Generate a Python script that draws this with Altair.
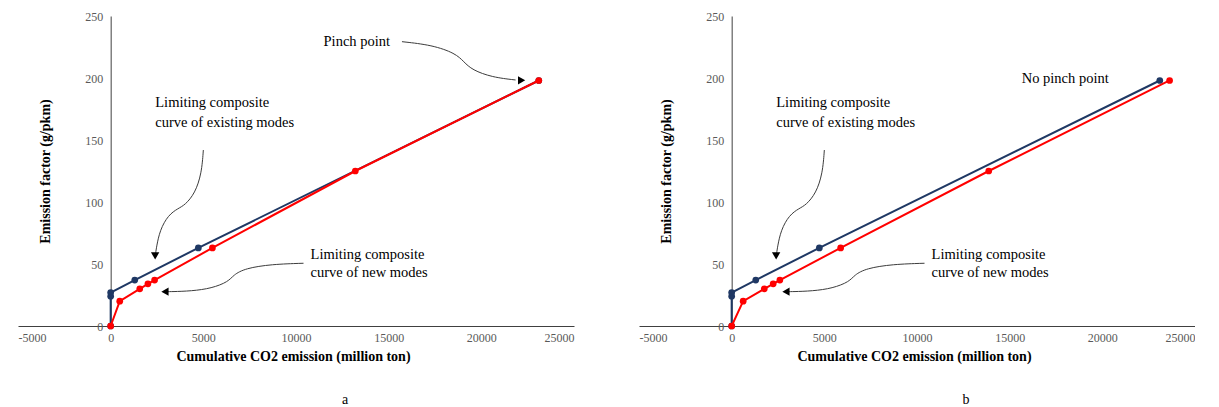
import altair as alt
import pandas as pd

FONT = "Times New Roman, Liberation Serif, serif"
W, H = 556, 310

# Limiting composite curve of existing modes (same in both panels)
exist_x = [0, 0, 0, 1300, 4730, 23100]
exist_y = [0, 24, 27, 37, 63, 198]

# Limiting composite curve of new modes, panel a
new_a_x = [0, 490, 1570, 2010, 2370, 5490, 13200, 23100]
new_a_y = [0, 20, 30, 34, 37, 63, 125, 198]

# Limiting composite curve of new modes, panel b
new_b_x = [0, 620, 1760, 2240, 2600, 5880, 13870, 23630]
new_b_y = [0, 20, 30, 34, 37, 63, 125, 198]

x_ticks = [-5000, 0, 5000, 10000, 15000, 20000, 25000]
y_ticks = [0, 50, 100, 150, 200, 250]

# Annotation arrow paths (data units)
pinch_arrow_x = [15718, 17340, 18605, 19054, 19502, 20583, 21848]
pinch_arrow_y = [229.3, 226.6, 219.9, 213.1, 206.5, 200.6, 198.4]
exist_arrow_x = [5000, 4908, 4551, 4011, 3649, 3108, 2659, 2476, 2420]
exist_arrow_y = [141.9, 123.1, 107.0, 97.6, 94.9, 89.5, 77.4, 64.0, 58.0]
new_arrow_x = [10405, 8691, 7254, 6621, 6351, 5449, 4368, 3286, 3000]
new_arrow_y = [50.6, 49.8, 46.5, 41.1, 35.7, 30.4, 28.2, 27.7, 27.7]

# Arrow heads
head_pinch = (22173, 198.1, "triangle-right")
head_exist = (2400, 56.5, "triangle-down")
head_new = (2930, 27.7, "triangle-left")

# Annotation texts
txt_exist = [("Limiting  composite", 2405, 179.8), ("curve  of existing  modes", 2405, 163.5)]
txt_new = [("Limiting  composite", 10784, 57.3), ("curve  of new modes", 10784, 42.5)]
txt_pinch_a = [("Pinch  point", 11486, 229.3)]
txt_pinch_b = [("No pinch  point", 15649, 199.2)]

xs = alt.Scale(domain=[-5000, 25000], nice=False, zero=False)
ys = alt.Scale(domain=[0, 250], nice=False, zero=False)

xaxis = alt.Axis(values=x_ticks, labelExpr="'' + datum.value", ticks=False, grid=False,
                 domainColor="#404040", domainWidth=1,
                 labelColor="#595959", labelFont=FONT, labelFontSize=12, labelPadding=6,
                 title="Cumulative  CO2 emission (million  ton)", titleFont=FONT,
                 titleFontSize=14, titleFontWeight="bold", titleColor="black",
                 titlePadding=6, titleX=275)
yaxis = alt.Axis(values=y_ticks, ticks=False, grid=False, offset=-W * 5000 / 30000,
                 domainColor="#404040", domainWidth=1,
                 labelColor="#595959", labelFont=FONT, labelFontSize=12, labelPadding=8,
                 title="Emission factor (g/pkm)", titleFont=FONT, titleFontSize=14,
                 titleFontWeight="bold", titleColor="black", titlePadding=32)


def X():
    return alt.X("x:Q", scale=xs, axis=xaxis)


def Y():
    return alt.Y("y:Q", scale=ys, axis=yaxis)


def curve(xv, yv, color):
    df = pd.DataFrame({"x": xv, "y": yv, "i": list(range(len(xv)))})
    base = alt.Chart(df).encode(x=X(), y=Y(), order="i:Q")
    return base.mark_line(color=color, strokeWidth=2) + base.mark_point(
        color=color, filled=True, opacity=1, size=45)


def panel(new_x, new_y, with_pinch_arrow, pinch_texts, caption):
    layers = [curve(exist_x, exist_y, "#1F3864"), curve(new_x, new_y, "#FF0000")]
    paths = [(exist_arrow_x, exist_arrow_y), (new_arrow_x, new_arrow_y)]
    heads = [head_exist, head_new]
    if with_pinch_arrow:
        paths.append((pinch_arrow_x, pinch_arrow_y))
        heads.append(head_pinch)
    rows = []
    for k, (px, py) in enumerate(paths):
        for i, (a, b) in enumerate(zip(px, py)):
            rows.append({"x": a, "y": b, "id": k, "i": i})
    adf = pd.DataFrame(rows)
    layers.append(alt.Chart(adf).mark_line(interpolate="basis", color="#3c3c3c", strokeWidth=1).encode(
        x=X(), y=Y(), detail="id:N", order="i:Q"))
    hdf = pd.DataFrame({"x": [h[0] for h in heads], "y": [h[1] for h in heads],
                        "shape": [h[2] for h in heads]})
    layers.append(alt.Chart(hdf).mark_point(filled=True, color="black", opacity=1, size=70).encode(
        x=X(), y=Y(), shape=alt.Shape("shape:N", scale=None)))
    texts = txt_exist + txt_new + pinch_texts
    tdf = pd.DataFrame({"t": [t[0] for t in texts], "x": [t[1] for t in texts],
                        "y": [t[2] for t in texts]})
    layers.append(alt.Chart(tdf).mark_text(align="left", baseline="middle", font=FONT,
                                           fontSize=14.5, color="black").encode(
        x=X(), y=Y(), text="t:N"))
    return alt.layer(*layers).properties(
        width=W, height=H,
        title=alt.TitleParams(caption, orient="bottom", dx=49, offset=30, font=FONT,
                              fontSize=14, fontWeight="normal", color="black"))


a = panel(new_a_x, new_a_y, True, txt_pinch_a, "a")
b = panel(new_b_x, new_b_y, False, txt_pinch_b, "b")

chart = alt.hconcat(a, b, spacing=65, bounds="flush").configure_view(stroke=None).properties(
    padding={"left": 10, "top": 2, "right": 0, "bottom": 0})

chart.save("out.html", embed_options={"renderer": "svg", "actions": False})
